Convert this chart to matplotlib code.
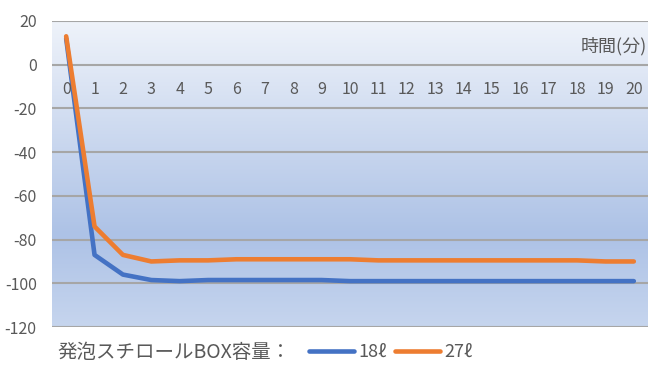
import numpy as np
import matplotlib
matplotlib.use("Agg")
import matplotlib.pyplot as plt
from matplotlib.colors import LinearSegmentedColormap
from matplotlib.lines import Line2D

plt.rcParams['font.family'] = ['Noto Sans CJK JP', 'DejaVu Sans']
plt.rcParams['axes.unicode_minus'] = False

# 時間(分) と温度
minutes = list(range(21))
box18 = [12, -87, -96, -98.5, -99, -98.5, -98.5, -98.5, -98.5, -98.5, -99,
         -99, -99, -99, -99, -99, -99, -99, -99, -99, -99]
box27 = [13, -74, -87, -90, -89.5, -89.5, -89, -89, -89, -89, -89,
         -89.5, -89.5, -89.5, -89.5, -89.5, -89.5, -89.5, -89.5, -90, -90]
series_names = ["18ℓ", "27ℓ"]
series_colors = ["#4472c4", "#ed7d31"]
yticks = [20, 0, -20, -40, -60, -80, -100, -120]
grey = "#595959"

fig = plt.figure(figsize=(6.48, 3.65), dpi=100)
ax = fig.add_axes([0.0802, 0.104, 0.9198, 0.8385])
ax.set_xlim(-0.5, 20.5)
ax.set_ylim(-120, 20)

# 背景のグラデーション
cmap = LinearSegmentedColormap.from_list(
    "bg", [(0.0, "#c6d5ee"), (0.3, "#adc2e6"), (1.0, "#eff3fa")])
grad = np.linspace(0, 1, 256).reshape(-1, 1)
ax.imshow(grad, extent=[-0.5, 20.5, -120, 20], origin="lower",
          aspect="auto", cmap=cmap, zorder=0)

for y in yticks:
    ax.axhline(y, color="#a6a6a6", lw=1.5, zorder=1)

for vals, c in zip([box18, box27], series_colors):
    ax.plot(minutes, vals, color=c, lw=3.3, solid_capstyle="round",
            solid_joinstyle="round", zorder=3)

for s in ax.spines.values():
    s.set_visible(False)
ax.set_yticks(yticks)
ax.tick_params(axis="y", length=0, pad=11, labelsize=11.5, labelcolor=grey)

# x軸ラベルは0の線の下に置く
ax.set_xticks([])
for m in minutes:
    ax.text(m, -11.5, str(m), ha="center", va="center", fontsize=11.5,
            color=grey, zorder=4)
ax.text(20.47, 8.5, "時間(分)", ha="right", va="center", fontsize=13, color=grey)

handles = [Line2D([], [], color=c, lw=3.3, solid_capstyle="round") for c in series_colors]
fig.legend(handles, series_names, loc="center left", bbox_to_anchor=(0.452, 0.035),
           ncol=2, frameon=False, fontsize=13, labelcolor=grey,
           handlelength=2.5, handletextpad=0.2, columnspacing=0.5)
fig.text(0.088, 0.035, "発泡スチロールBOX容量：", ha="left", va="center",
         fontsize=14, color=grey)

fig.savefig("out.png", dpi=100)
